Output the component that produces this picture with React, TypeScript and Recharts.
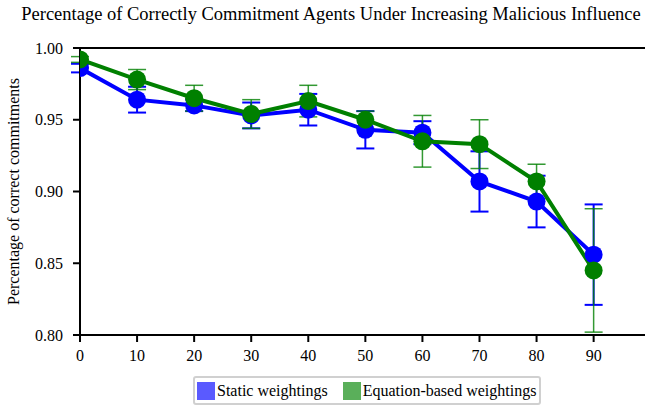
import React from "react";
import { LineChart, Line, XAxis, YAxis, ErrorBar, ReferenceLine } from "recharts";

const maliciousPct = [0, 10, 20, 30, 40, 50, 60, 70, 80, 90];
const staticMean = [0.986, 0.964, 0.96, 0.953, 0.957, 0.943, 0.941, 0.907, 0.893, 0.856];
const staticErr = [0.003, 0.009, 0.004, 0.009, 0.011, 0.013, 0.008, 0.021, 0.018, 0.035];
const equationMean = [0.992, 0.978, 0.965, 0.954, 0.963, 0.95, 0.935, 0.933, 0.907, 0.845];
const equationErr = [0.002, 0.007, 0.009, 0.01, 0.011, 0.006, 0.018, 0.017, 0.012, 0.043];
const yTicks = [0.8, 0.85, 0.9, 0.95, 1.0];

const data = maliciousPct.map((x, i) => ({
  x,
  staticMean: staticMean[i],
  staticErr: staticErr[i],
  equationMean: equationMean[i],
  equationErr: equationErr[i],
}));

const serif = "'Liberation Serif', 'DejaVu Serif', serif";

export default function App() {
  return (
    <div style={{ position: "absolute", left: 0, top: 0, width: 645, height: 407, fontFamily: serif, background: "#fff" }}>
      <div style={{ position: "absolute", top: 4, left: 0, width: 662, textAlign: "center", fontSize: 18.5, color: "#000", whiteSpace: "nowrap" }}>
        Percentage of Correctly Commitment Agents Under Increasing Malicious Influence
      </div>
      <LineChart width={645} height={407} data={data} margin={{ top: 48, right: 0, bottom: 0, left: 0 }}>
        <XAxis
          dataKey="x"
          type="number"
          domain={[0, 99]}
          ticks={maliciousPct}
          allowDataOverflow
          height={72}
          stroke="#000"
          strokeWidth={2}
          tickSize={7}
          tickMargin={8}
          tick={{ fill: "#000", fontSize: 16, fontFamily: serif }}
        />
        <YAxis
          type="number"
          domain={[0.8, 1.0]}
          ticks={yTicks}
          width={80}
          stroke="#000"
          strokeWidth={2}
          tickSize={7}
          tickMargin={10}
          tickFormatter={(v: number) => v.toFixed(2)}
          tick={{ fill: "#000", fontSize: 16, fontFamily: serif }}
          label={{ value: "Percentage of correct commitments", angle: -90, position: "insideLeft", offset: 13, style: { textAnchor: "middle", fontSize: 16, fontFamily: serif, fill: "#000" } }}
        />
        <ReferenceLine y={1.0} stroke="#000" strokeWidth={2} />
        <Line
          dataKey="staticMean"
          stroke="#0000ff"
          strokeWidth={4}
          dot={{ r: 9, fill: "#0000ff", stroke: "none" }}
          activeDot={false}
          isAnimationActive={false}
        >
          <ErrorBar dataKey="staticErr" width={9} stroke="#0000ff" strokeWidth={2} direction="y" />
        </Line>
        <Line
          dataKey="equationMean"
          stroke="#008000"
          strokeWidth={4}
          dot={{ r: 9, fill: "#008000", stroke: "none" }}
          activeDot={false}
          isAnimationActive={false}
        >
          <ErrorBar dataKey="equationErr" width={9} stroke="#008000" strokeOpacity={0.8} strokeWidth={1.5} direction="y" />
        </Line>
      </LineChart>
      <div
        style={{
          position: "absolute",
          left: 193,
          top: 376,
          width: 348,
          height: 29,
          border: "2px solid #d0d0d0",
          borderRadius: 3,
          display: "flex",
          alignItems: "center",
          paddingLeft: 2,
          fontSize: 16,
          color: "#000",
          boxSizing: "border-box",
          whiteSpace: "nowrap",
        }}
      >
        <span style={{ display: "inline-block", width: 18, height: 18, background: "#5a5aff", marginRight: 2 }} />
        <span style={{ marginRight: 15 }}>Static weightings</span>
        <span style={{ display: "inline-block", width: 18, height: 18, background: "#5aaf5a", marginRight: 2 }} />
        <span>Equation-based weightings</span>
      </div>
    </div>
  );
}
